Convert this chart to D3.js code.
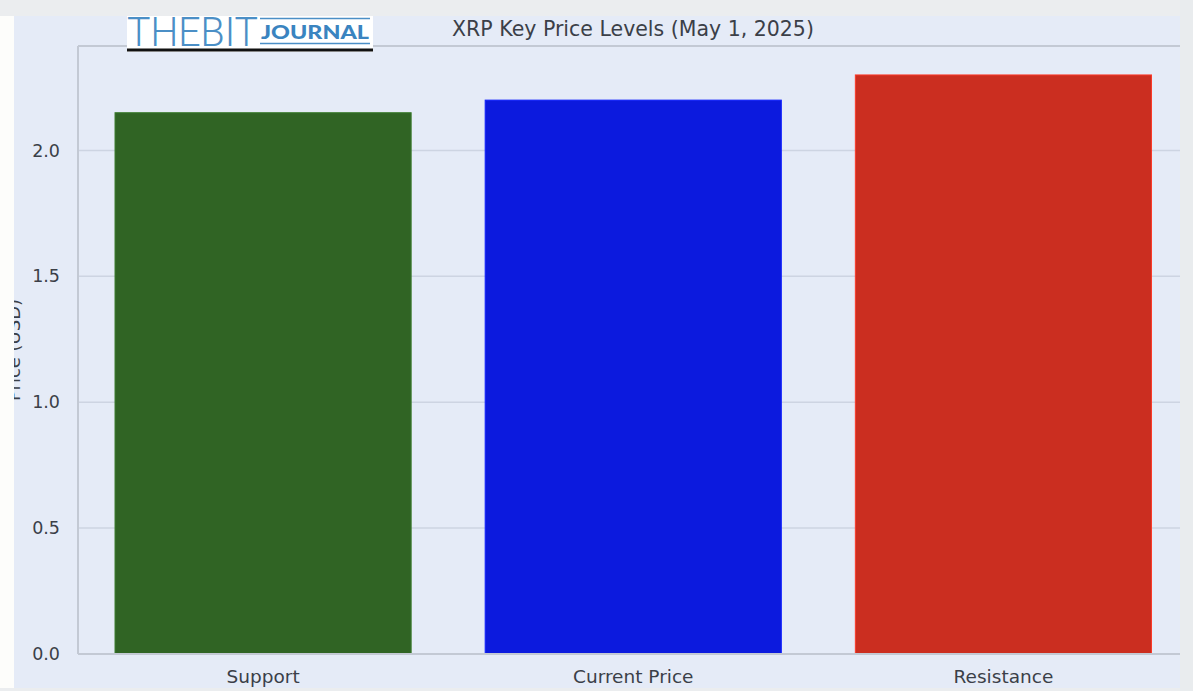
<!DOCTYPE html>
<html>
<head>
<meta charset="utf-8">
<script src="https://cdn.jsdelivr.net/npm/d3@7"></script>
<style>
  html, body { margin: 0; padding: 0; background: #eaecee; }
  svg { display: block; font-family: "DejaVu Sans", sans-serif; }
</style>
</head>
<body>
<div id="chart"></div>
<script>
// data
var categories = ["Support", "Current Price", "Resistance"]
var prices = [2.15, 2.20, 2.30]
var barColors = ["#306424", "#0c1ade", "#cb2e20"]
var yTicks = [0.0, 0.5, 1.0, 1.5, 2.0]
var title = "XRP Key Price Levels (May 1, 2025)"
var yLabel = "Price (USD)"

var W = 1193, H = 691
var pad = { top: 46, bottom: 37, left: 78, right: 4.5 } // right edge falls outside the visible panel

var svg = d3.select("#chart").append("svg")
    .attr("width", W)
    .attr("height", H)

// page + panel backgrounds
svg.append("rect").attr("width", W).attr("height", H).attr("fill", "#eaecee")
svg.append("rect").attr("x", 14).attr("y", 16).attr("width", 1166).attr("height", 672).attr("fill", "#e5ebf7")

svg.append("defs").append("clipPath").attr("id", "panel")
  .append("rect").attr("x", 14).attr("y", 16).attr("width", 1166).attr("height", 672)

var g = svg.append("g").attr("clip-path", "url(#panel)")

var x = d3.scaleBand()
    .domain(categories)
    .range([pad.left, W - pad.right])
    .paddingInner(0.2)
    .paddingOuter(0.1)

var yMax = d3.max(prices) * 1.05
var y = d3.scaleLinear()
    .domain([0, yMax])
    .range([H - pad.bottom, pad.top])

// grid
g.append("g").selectAll("line").data(yTicks).join("line")
    .attr("x1", pad.left).attr("x2", W - pad.right)
    .attr("y1", d => y(d)).attr("y2", d => y(d))
    .attr("stroke", "#cdd4e2")
    .attr("stroke-width", 1.5)

// bars
g.append("g").selectAll("rect").data(prices).join("rect")
    .attr("x", (d, i) => x(categories[i]))
    .attr("y", d => y(d))
    .attr("width", x.bandwidth())
    .attr("height", d => y(0) - y(d))
    .attr("fill", (d, i) => barColors[i])
    .attr("stroke", (d, i) => d3.color(barColors[i]).brighter(0.6))
    .attr("stroke-width", 1)

// spines
g.append("line").attr("x1", pad.left).attr("x2", W - pad.right)
    .attr("y1", pad.top).attr("y2", pad.top)
    .attr("stroke", "#c3c9d4").attr("stroke-width", 2)
g.append("line").attr("x1", pad.left).attr("x2", W - pad.right)
    .attr("y1", y(0)).attr("y2", y(0))
    .attr("stroke", "#c3c9d4").attr("stroke-width", 2)
g.append("line").attr("x1", pad.left).attr("x2", pad.left)
    .attr("y1", pad.top).attr("y2", y(0))
    .attr("stroke", "#c3c9d4").attr("stroke-width", 2)

// axes
var axisY = d3.axisLeft(y).tickValues(yTicks).tickFormat(d3.format(".1f")).tickSize(0).tickPadding(18)
var AxisY = svg.append("g").attr("transform", "translate(" + pad.left + ",0)").call(axisY)
AxisY.select(".domain").remove()
AxisY.selectAll("text").attr("font-size", 17.5).attr("fill", "#3b3f48").attr("font-family", "DejaVu Sans")

var axisX = d3.axisBottom(x).tickSize(0).tickPadding(16)
var AxisX = svg.append("g").attr("transform", "translate(0," + y(0) + ")").call(axisX)
AxisX.select(".domain").remove()
AxisX.selectAll("text").attr("font-size", 18.5).attr("fill", "#3b3f48").attr("font-family", "DejaVu Sans")

// title
svg.append("text")
    .attr("x", 633).attr("y", 36)
    .attr("text-anchor", "middle")
    .attr("font-size", 20.5)
    .attr("fill", "#3b3f48")
    .text(title)

// y label, mostly cut by the left strip
svg.append("text")
    .attr("transform", "translate(20,350) rotate(-90)")
    .attr("text-anchor", "middle")
    .attr("font-size", 18)
    .attr("fill", "#3b3f48")
    .text(yLabel)

// outer strips over the label / edges
svg.append("rect").attr("x", 0).attr("y", 0).attr("width", 14).attr("height", H).attr("fill", "#fdfdfb")
svg.append("rect").attr("x", 0).attr("y", 0).attr("width", W).attr("height", 16).attr("fill", "#ebedef")
svg.append("rect").attr("x", 0).attr("y", 688).attr("width", W).attr("height", 3).attr("fill", "#ebedef")
svg.append("rect").attr("x", 1180).attr("y", 0).attr("width", 13).attr("height", H).attr("fill", "#e9ecee")

// logo
var logo = svg.append("g")
logo.append("rect").attr("x", 127).attr("y", 16).attr("width", 246).attr("height", 36).attr("fill", "#ffffff")
logo.append("text")
    .attr("x", 127).attr("y", 46)
    .attr("font-family", "Roboto, sans-serif")
    .attr("font-weight", 300)
    .attr("font-size", 40)
    .attr("textLength", 131)
    .attr("lengthAdjust", "spacingAndGlyphs")
    .attr("fill", "#4b8fc6")
    .text("THEBIT")
logo.append("line").attr("x1", 260).attr("x2", 370).attr("y1", 18.5).attr("y2", 18.5)
    .attr("stroke", "#4b8fc6").attr("stroke-width", 1.5)
logo.append("text")
    .attr("x", 261).attr("y", 38.5)
    .attr("font-family", "Lato, sans-serif")
    .attr("font-weight", 900)
    .attr("font-size", 18.5)
    .attr("textLength", 108)
    .attr("lengthAdjust", "spacingAndGlyphs")
    .attr("fill", "#3a84c0")
    .text("JOURNAL")
logo.append("line").attr("x1", 260).attr("x2", 370).attr("y1", 43.5).attr("y2", 43.5)
    .attr("stroke", "#4b8fc6").attr("stroke-width", 1.5)
logo.append("line").attr("x1", 127).attr("x2", 373).attr("y1", 50).attr("y2", 50)
    .attr("stroke", "#111111").attr("stroke-width", 3)
</script>
</body>
</html>
